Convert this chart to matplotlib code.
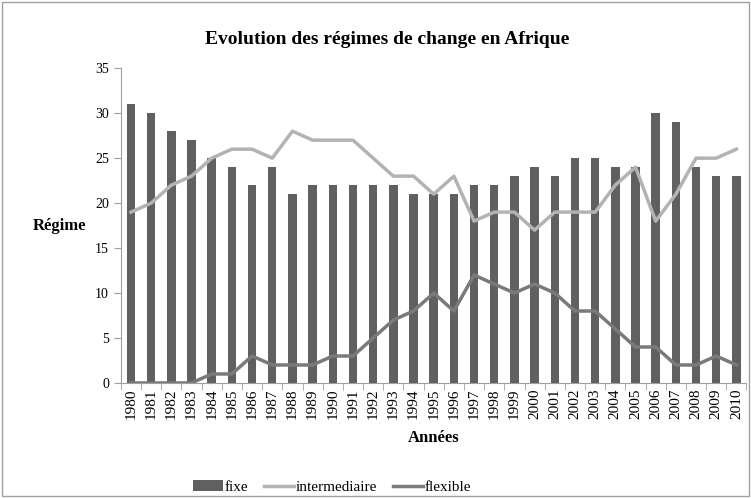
import matplotlib
matplotlib.use("Agg")
import matplotlib.pyplot as plt
import numpy as np

years = list(range(1980, 2011))
fixe = [31, 30, 28, 27, 25, 24, 22, 24, 21, 22, 22, 22, 22, 22, 21, 21,
        21, 22, 22, 23, 24, 23, 25, 25, 24, 24, 30, 29, 24, 23, 23]
intermediaire = [19, 20, 22, 23, 25, 26, 26, 25, 28, 27, 27, 27, 25, 23, 23, 21,
                 23, 18, 19, 19, 17, 19, 19, 19, 22, 24, 18, 21, 25, 25, 26]
flexible = [0, 0, 0, 0, 1, 1, 3, 2, 2, 2, 3, 3, 5, 7, 8, 10,
            8, 12, 11, 10, 11, 10, 8, 8, 6, 4, 4, 2, 2, 3, 2]

plt.rcParams["font.family"] = ["Liberation Serif", "DejaVu Serif"]

fig = plt.figure(figsize=(7.51, 4.98), dpi=100)
ax = fig.add_axes([0.161, 0.231, 0.833, 0.632])

x = np.arange(len(years))
bars = ax.bar(x, fixe, width=0.42, color="#606060", zorder=2)
l1, = ax.plot(x, intermediaire, color="#b3b3b3", lw=2.5, zorder=3)
l2, = ax.plot(x, flexible, color="#7a7a7a", lw=2.5, zorder=3)

ax.set_xlim(-0.5, len(years) - 0.5)
ax.set_ylim(0, 35)
ax.set_yticks(range(0, 36, 5))
ax.set_xticks(x)
ax.set_xticklabels([str(y) for y in years], rotation=90, fontsize=11)
ax.set_xticks(np.arange(-0.5, len(years), 1), minor=True)
ax.tick_params(axis="x", which="major", length=0, pad=4)
ax.tick_params(axis="x", which="minor", length=5, color="#a0a0a0")
ax.tick_params(axis="y", length=5, color="#a0a0a0", labelsize=10)

for side in ["top", "right"]:
    ax.spines[side].set_visible(False)
for side in ["left", "bottom"]:
    ax.spines[side].set_color("#a0a0a0")

fig.text(0.515, 0.92, "Evolution des régimes de change en Afrique",
         fontsize=14, fontweight="bold", ha="center", va="center")
ax.set_xlabel("Années", fontsize=12, fontweight="bold", labelpad=8)
ax.set_ylabel("Régime", fontsize=12, fontweight="bold", rotation=0,
              labelpad=26, va="center")

fig.legend([bars, l1, l2], ["fixe", "intermediaire", "flexible"],
           loc="center", bbox_to_anchor=(0.442, 0.022), ncol=3,
           frameon=False, fontsize=11, handlelength=2.0, handletextpad=0.1,
           columnspacing=1.0)

fig.patches.append(plt.Rectangle((0.003, 0.004), 0.994, 0.992,
                                 transform=fig.transFigure, fill=False,
                                 edgecolor="#a0a0a0", lw=1))

fig.savefig("out.png", dpi=100)
